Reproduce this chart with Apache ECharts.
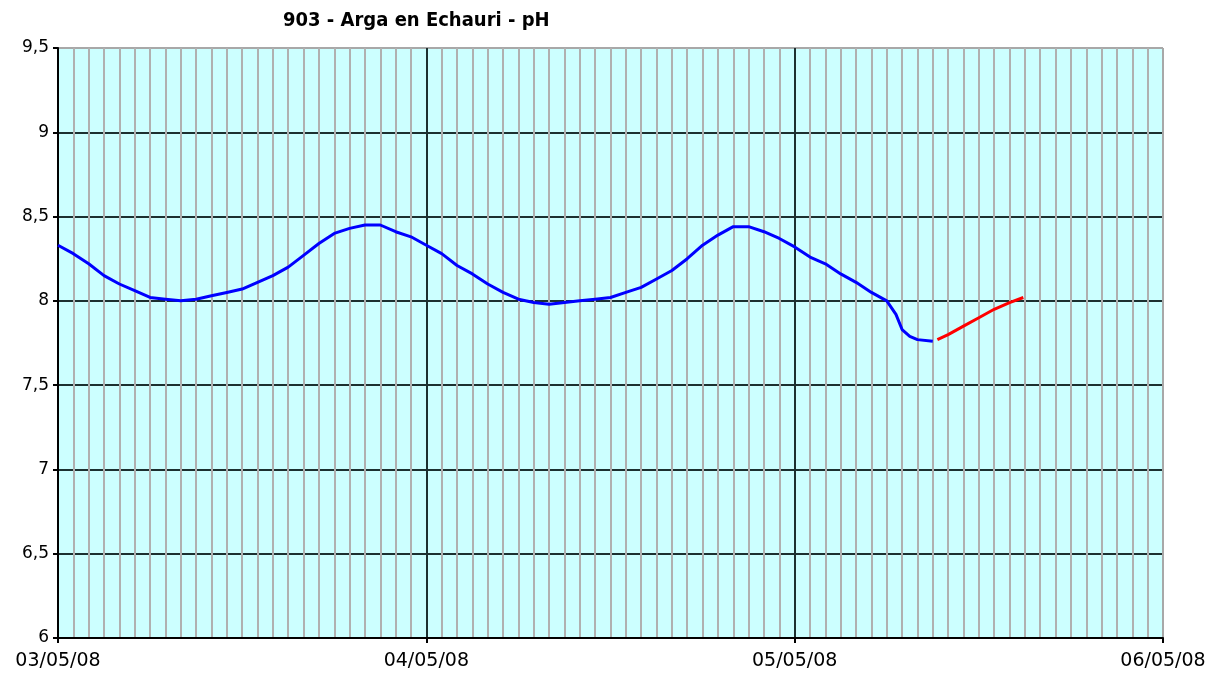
<!DOCTYPE html>
<html>
<head>
<meta charset="utf-8">
<title>903 - Arga en Echauri - pH</title>
<script src="https://cdn.jsdelivr.net/npm/echarts@6/dist/echarts.min.js"></script>
<style>
  html, body { margin: 0; padding: 0; background: #fff; }
  #chart { width: 1222px; height: 679px; }
</style>
</head>
<body>
<div id="chart"></div>
<script>
// horas desde 03/05/08 00:00
const dayLabels = ['03/05/08', '04/05/08', '05/05/08', '06/05/08']

// pH validado (azul)
const blueHours = [0, 1, 2, 3, 4, 5, 6, 7, 8, 9, 10, 11, 12, 13, 14, 15, 16, 17, 18, 19,
  20, 21, 22, 23, 24, 25, 26, 27, 28, 29, 30, 31, 32, 33, 34, 35, 36, 37, 38, 39,
  40, 41, 42, 43, 44, 45, 46, 47, 48, 49, 50, 51, 52, 53, 54, 54.6, 55, 55.5, 56, 57]
const blueValues = [8.33, 8.28, 8.22, 8.15, 8.10, 8.06, 8.02, 8.01, 8.00, 8.01,
  8.03, 8.05, 8.07, 8.11, 8.15, 8.20, 8.27, 8.34, 8.40, 8.43,
  8.45, 8.45, 8.41, 8.38, 8.33, 8.28, 8.21, 8.16, 8.10, 8.05,
  8.01, 7.99, 7.98, 7.99, 8.00, 8.01, 8.02, 8.05, 8.08, 8.13,
  8.18, 8.25, 8.33, 8.39, 8.44, 8.44, 8.41, 8.37, 8.32, 8.26,
  8.22, 8.16, 8.11, 8.05, 8.00, 7.92, 7.83, 7.79, 7.77, 7.76]

// pH sin validar (rojo)
const redHours = [57.3, 58, 59, 60, 61, 62, 62.9]
const redValues = [7.77, 7.80, 7.85, 7.90, 7.95, 7.99, 8.02]

const chart = echarts.init(document.getElementById('chart'))

const pairs = (xs, ys) => xs.map((x, i) => [x, ys[i]])

const dark = '#1c3030'
const gray = '#a8a8a8'

const option = {
  backgroundColor: '#ffffff',
  animation: false,
  title: {
    text: '903 - Arga en Echauri - pH',
    left: 278,
    top: 6,
    textStyle: {
      fontFamily: 'DejaVu Sans Condensed',
      fontWeight: 'bold',
      fontSize: 20,
      color: '#000'
    }
  },
  grid: {
    left: 58,
    right: 59,
    top: 48,
    bottom: 41,
    show: true,
    backgroundColor: '#ccffff',
    borderColor: gray,
    borderWidth: 1
  },
  xAxis: {
    type: 'value',
    min: 0,
    max: 72,
    interval: 24,
    axisLine: { lineStyle: { color: '#000', width: 2 } },
    axisTick: { show: true, length: 5, lineStyle: { color: '#000', width: 2 } },
    minorTick: { show: false, splitNumber: 24 },
    minorSplitLine: { show: true, lineStyle: { color: '#b0b0b0', width: 2 } },
    // la última línea (borde derecho) es gris
    splitLine: { show: true, lineStyle: { color: [dark, dark, dark, gray], width: 2 } },
    axisLabel: {
      margin: 14,
      fontFamily: 'DejaVu Sans',
      fontSize: 19,
      color: '#000',
      formatter: v => dayLabels[Math.round(v / 24)]
    }
  },
  yAxis: {
    type: 'value',
    min: 6,
    max: 9.5,
    interval: 0.5,
    axisLine: { show: true, lineStyle: { color: '#000', width: 2 } },
    axisTick: { show: true, length: 5, lineStyle: { color: '#000', width: 2 } },
    // la última línea (borde superior) es gris
    splitLine: { show: true, lineStyle: { color: [dark, dark, dark, dark, dark, dark, dark, gray], width: 2 } },
    axisLabel: {
      margin: 9,
      fontFamily: 'DejaVu Sans',
      fontSize: 17,
      color: '#000',
      formatter: v => String(v).replace('.', ',')
    }
  },
  series: [
    {
      name: 'pH',
      type: 'line',
      data: pairs(blueHours, blueValues),
      symbol: 'none',
      lineStyle: { color: '#0000ff', width: 3 }
    },
    {
      name: 'pH (sin validar)',
      type: 'line',
      data: pairs(redHours, redValues),
      symbol: 'none',
      lineStyle: { color: '#ff0000', width: 3 }
    }
  ]
}

chart.setOption(option)
</script>
</body>
</html>
